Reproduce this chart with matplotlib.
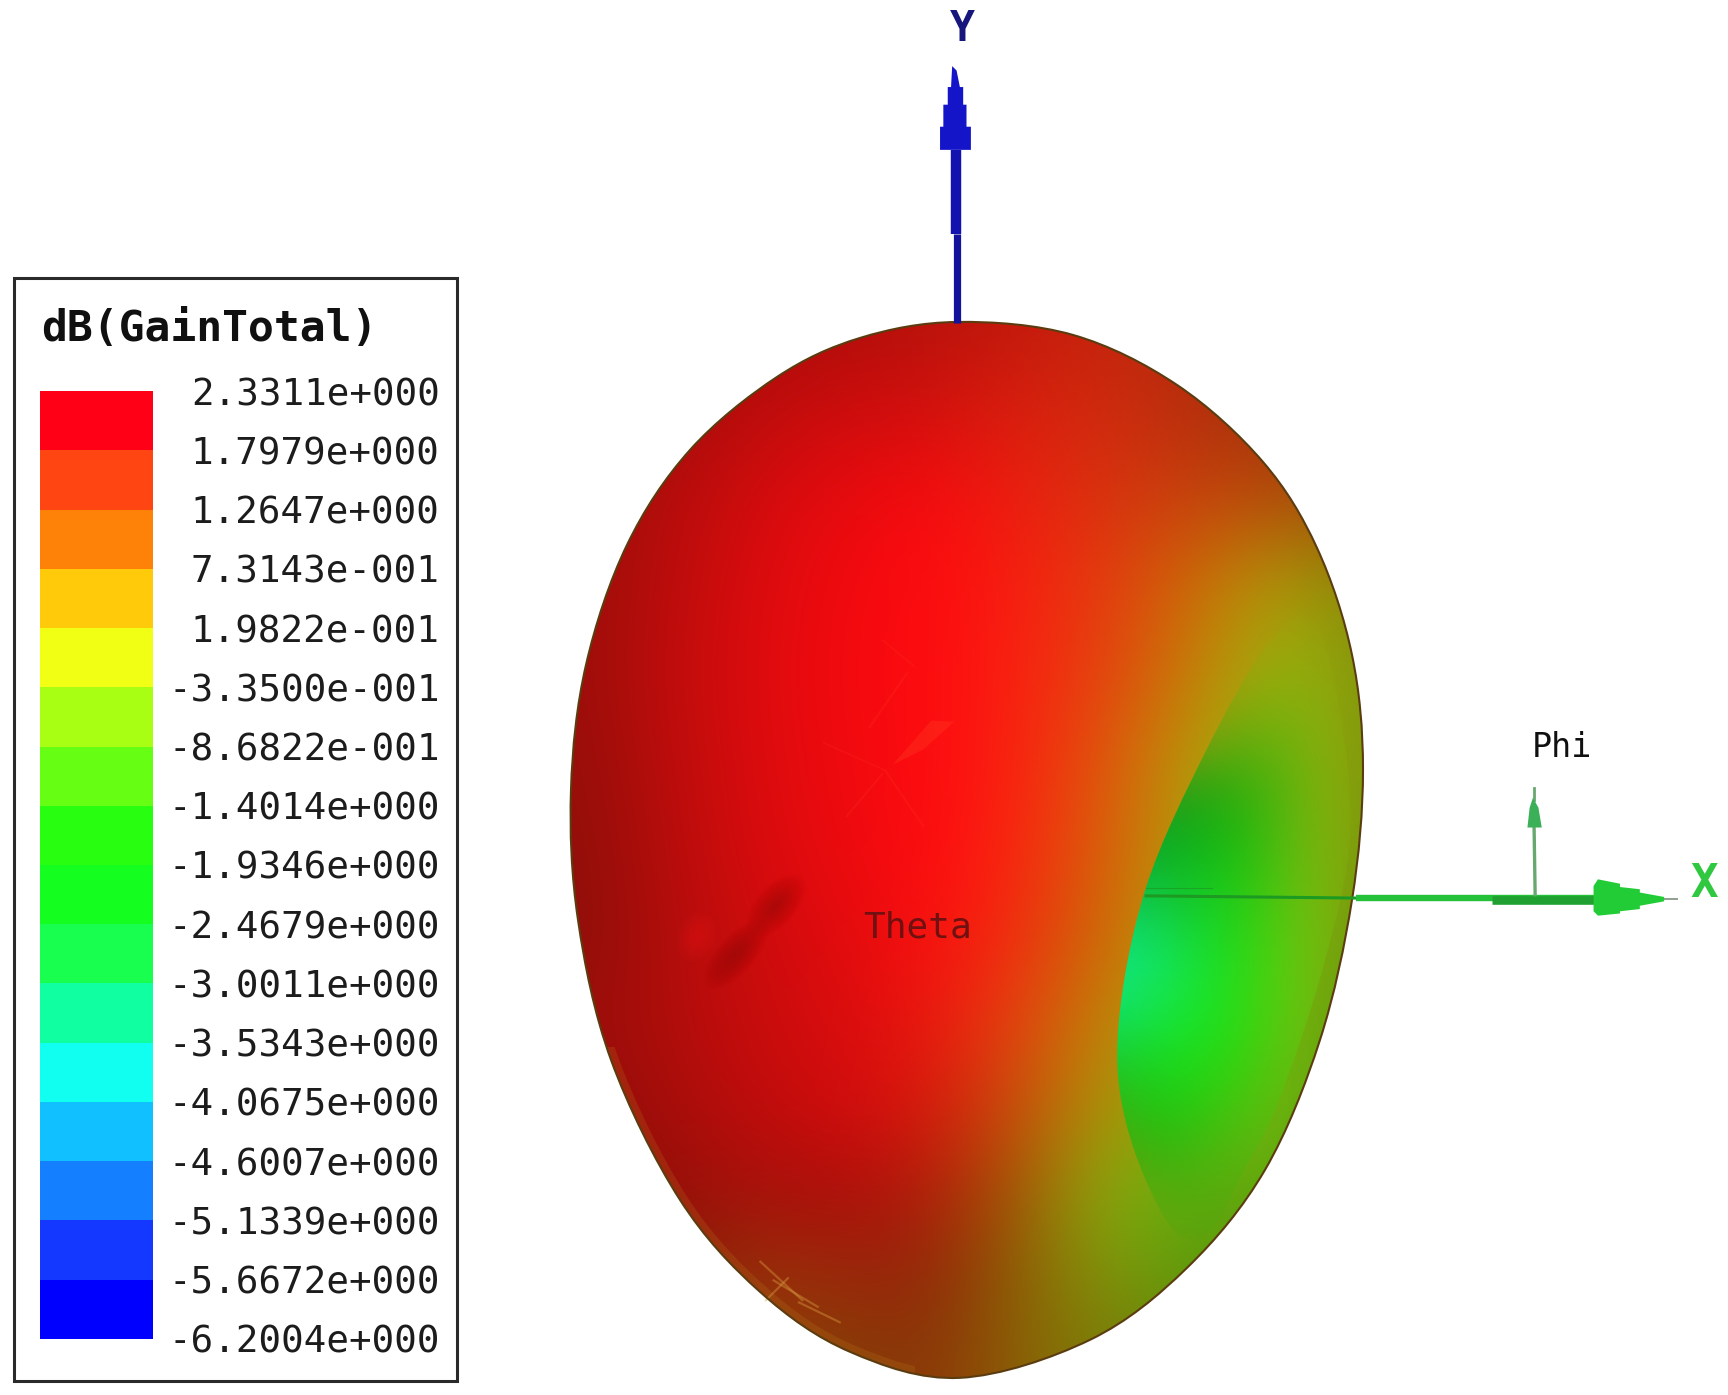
import numpy as np
import matplotlib
matplotlib.use('Agg')
import matplotlib.pyplot as plt
from matplotlib.colors import ListedColormap, LinearSegmentedColormap, Normalize
from matplotlib.patches import Polygon, Rectangle, Ellipse, PathPatch
from matplotlib.path import Path
from matplotlib.transforms import Bbox, TransformedBbox

# legend
level_labels = ['-6.2004e+000', '-5.6672e+000', '-5.1339e+000', '-4.6007e+000', '-4.0675e+000',
                '-3.5343e+000', '-3.0011e+000', '-2.4679e+000', '-1.9346e+000', '-1.4014e+000',
                '-8.6822e-001', '-3.3500e-001', '1.9822e-001', '7.3143e-001', '1.2647e+000',
                '1.7979e+000', '2.3311e+000']
levels = [float(s) for s in level_labels]
band_colors = ['#0000ff', '#1438ff', '#1480ff', '#10c0ff', '#10fff0', '#10ffa0', '#18ff50', '#14ff20',
               '#28ff10', '#66ff14', '#a8ff14', '#f0ff14', '#ffca0a', '#ff8208', '#ff4612', '#ff0016']

# outline of the pattern, full size px of the reference
outline_x = [957, 1073, 1177, 1263, 1317, 1352, 1363, 1352, 1320, 1265, 1187, 1090, 960, 850, 760, 680, 611, 578, 571, 586, 627, 690, 777, 860]
outline_y = [322, 335, 385, 462, 548, 655, 770, 900, 1040, 1170, 1268, 1340, 1378, 1352, 1292, 1200, 1060, 920, 790, 665, 545, 450, 377, 338]

# edge of the null on the right, in the 1568 wide view
crater_x = [1150, 1095, 1040, 1015, 1022, 1060, 1095, 1130, 1160, 1200, 1225, 1215, 1190]
crater_y = [585, 680, 805, 930, 1020, 1110, 1120, 1060, 1000, 880, 760, 640, 560]

# gain, dB
body_cols = [520, 600, 680, 760, 840, 920, 1000, 1080, 1160, 1240]
body_rows = [290, 370, 450, 530, 610, 690, 770, 850, 930, 1010, 1090, 1170, 1250]
body_gain = [[2.3, 2.3, 2.3, 2.3, 2.2, 2.1, 1.9, 1.7, 1.5, 1.3],
             [2.3, 2.3, 2.3, 2.3, 2.25, 2.0, 1.8, 1.7, 1.5, 1.3],
             [2.3, 2.3, 2.3, 2.3, 2.3, 2.05, 1.7, 1.45, 1.3, 1.1],
             [2.3, 2.3, 2.3, 2.3, 2.3, 2.05, 1.6, 1.0, 0.3, 0.15],
             [2.3, 2.3, 2.3, 2.3, 2.3, 2.0, 1.5, 0.8, -0.2, -0.1],
             [2.3, 2.3, 2.3, 2.3, 2.3, 2.0, 1.3, 0.4, -0.4, -0.1],
             [2.3, 2.3, 2.3, 2.3, 2.3, 1.95, 1.2, 0.3, -0.5, -0.2],
             [2.3, 2.3, 2.3, 2.3, 2.25, 1.85, 1.0, 0.3, -0.6, -0.3],
             [2.3, 2.3, 2.3, 2.3, 2.15, 1.5, 0.7, 0.0, -0.8, -0.4],
             [2.3, 2.3, 2.3, 2.3, 2.1, 1.3, 0.4, -0.4, -0.9, -0.4],
             [2.3, 2.3, 2.2, 2.3, 2.0, 1.0, -0.3, -0.9, -0.7, -0.4],
             [1.9, 1.9, 1.4, 1.6, 1.7, 0.8, 0.0, -0.6, -0.6, -0.4],
             [1.2, 1.2, 1.1, 1.1, 1.4, 0.8, 0.2, -0.2, -0.3, -0.3]]
body_shade = [[.60, .60, .65, .68, .72, .76, .78, .70, .65, .60],
              [.60, .62, .74, .80, .82, .85, .82, .72, .62, .55],
              [.60, .70, .82, .90, .97, .93, .85, .78, .72, .60],
              [.60, .72, .85, .94, 1.0, .97, .90, .80, .70, .55],
              [.60, .74, .86, .95, 1.0, .98, .90, .78, .69, .55],
              [.58, .72, .85, .94, 1.0, .98, .88, .72, .70, .55],
              [.56, .70, .84, .92, 1.0, .98, .86, .70, .72, .55],
              [.55, .68, .80, .88, .98, .95, .80, .72, .72, .55],
              [.60, .68, .78, .85, .92, .90, .75, .68, .72, .55],
              [.55, .64, .74, .82, .84, .78, .68, .66, .72, .55],
              [.50, .58, .64, .66, .68, .62, .65, .66, .62, .50],
              [.45, .50, .58, .60, .56, .55, .54, .56, .50, .45],
              [.40, .45, .50, .50, .55, .55, .50, .45, .45, .40]]

pit_cols = [1000, 1060, 1120, 1180, 1240]
pit_rows = [560, 640, 720, 800, 880, 960, 1040, 1120]
pit_gain = [[.2, .0, -.2, -.2, .0],
            [.0, -.6, -.9, -.7, -.1],
            [-2.6, -2.4, -1.8, -.9, -.2],
            [-2.9, -2.5, -1.95, -1.0, -.3],
            [-3.4, -3.0, -1.85, -1.0, -.4],
            [-2.5, -2.0, -1.75, -.9, -.3],
            [-1.5, -1.9, -1.2, -.8, -.4],
            [-1.2, -1.2, -.9, -.7, -.5]]
pit_shade = [[.70, .70, .70, .70, .70],
             [.70, .66, .66, .69, .69],
             [.50, .55, .64, .68, .68],
             [.68, .72, .78, .74, .70],
             [.95, .92, .88, .80, .70],
             [.78, .88, .86, .75, .70],
             [.65, .72, .72, .70, .65],
             [.60, .62, .62, .60, .55]]
pit_fade = [[0, 0, 0, 0, 0],
            [0, .05, .4, .5, 0],
            [1, 1, 1, .9, 0],
            [1, 1, 1, .8, 0],
            [1, 1, 1, .8, 0],
            [1, 1, 1, .7, 0],
            [.6, 1, .7, .2, 0],
            [0, 0, 0, 0, 0]]

# smooth version of the legend colours for the surface
surface_colors = band_colors[:-1] + ['#ff0a10']
centers = [(a + b) / 2 for a, b in zip(levels[:-1], levels[1:])]
pos = [(c - levels[0]) / (levels[-1] - levels[0]) for c in centers]
pos[0], pos[-1] = 0.0, 1.0
surface_cmap = LinearSegmentedColormap.from_list('gain', list(zip(pos, surface_colors)))
gain_norm = Normalize(levels[0], levels[-1])


def shaded(gain, shade, fade=None):
    rgba = surface_cmap(gain_norm(np.array(gain)))
    shade = np.array(shade)
    rgba[..., :3] *= shade[..., None]
    rgba[..., 1] += (1 - shade) * 0.08  # dark parts go brown, not maroon
    if fade is not None:
        rgba[..., 3] = fade
    return rgba.clip(0, 1)


def smooth_closed(xs, ys):
    # closed catmull-rom through the read points
    p = np.column_stack([xs, ys]).astype(float)
    n = len(p)
    verts = [p[0]]
    codes = [Path.MOVETO]
    for i in range(n):
        p0, p1, p2, p3 = p[i - 1], p[i], p[(i + 1) % n], p[(i + 2) % n]
        verts += [p1 + (p2 - p0) / 6, p2 - (p3 - p1) / 6, p2]
        codes += [Path.CURVE4] * 3
    return Path(verts, codes)


fig = plt.figure(figsize=(17.28, 13.95), dpi=100)
ax = fig.add_axes([0, 0, 1, 1])

# surface
view = 1568 / 1728
edge_path = smooth_closed(np.array(outline_x) * view, np.array(outline_y) * view)
outline = PathPatch(edge_path, fc='none', ec='#5a3c10', lw=1.5, zorder=4)
im = ax.imshow(shaded(body_gain, body_shade), interpolation='bicubic', aspect='auto', zorder=1,
               extent=(body_cols[0] - 40, body_cols[-1] + 40, body_rows[-1] + 40, body_rows[0] - 40))
ax.add_patch(outline)
im.set_clip_path(outline)

pit = PathPatch(smooth_closed(crater_x, crater_y), fc='none', ec='none')
ax.add_patch(pit)
im2 = ax.imshow(shaded(pit_gain, pit_shade, pit_fade), interpolation='bicubic', aspect='auto', zorder=2,
                extent=(pit_cols[0] - 30, pit_cols[-1] + 30, pit_rows[-1] + 40, pit_rows[0] - 40))
im2.set_clip_path(pit)
ax.set_xlim(0, 1568)
ax.set_ylim(1266, 0)
ax.axis('off')

# dents on the front, stacked soft blobs
for cx, cy, w, h in [(704, 822, 70, 36), (668, 866, 80, 34)]:
    for k in np.linspace(1, 0.15, 12):
        ax.add_patch(Ellipse((cx, cy), w * k, h * k, angle=-48, fc='#7a0808', ec='none', alpha=0.035, zorder=3))
for k in np.linspace(1, 0.3, 6):
    ax.add_patch(Ellipse((632, 850), 34 * k, 46 * k, angle=20, fc='#ff2020', ec='none', alpha=0.05, zorder=3))

# creases around the main beam
crease = dict(color='#ff3520', alpha=0.22, zorder=3, solid_capstyle='round')
ax.plot([823, 789], [611, 660], lw=1.6, **crease)
ax.plot([768, 801], [741, 702], lw=1.4, **crease)
ax.plot([803, 838], [699, 750], lw=1.4, **crease)
ax.plot([747, 803], [674, 699], lw=1.0, **crease)
ax.plot([801, 830], [581, 605], lw=1.2, **crease)
ax.add_patch(Polygon([(810, 694), (845, 654), (866, 655), (838, 680)], closed=True, fc='#ff3520', ec='none', alpha=0.4, zorder=3))

# brown speckled band on the lower rim
band = PathPatch(edge_path, fc='none', ec='#c08020', lw=11, alpha=0.2, zorder=3)
ax.add_patch(band)
band.set_clip_path(outline)
band.set_clip_box(TransformedBbox(Bbox([[500, 950], [830, 1260]]), ax.transData))
rim = dict(color='#d8a040', alpha=0.4, lw=1.6, zorder=3)
ax.plot([690, 728], [1145, 1180], **rim)
ax.plot([702, 742], [1162, 1186], **rim)
ax.plot([715, 695], [1160, 1180], **rim)
ax.plot([725, 762], [1182, 1200], **rim)

# axes triads
ax.plot([867.5, 867.5], [136, 212], color='#1212b0', lw=7.5, zorder=5, solid_capstyle='butt')
ax.plot([868.5, 868.5], [212, 293], color='#12129c', lw=5.2, zorder=5, solid_capstyle='butt')
ax.add_patch(Polygon([(864, 60), (868, 64), (871, 79), (874, 79), (874, 95), (877, 95), (877, 115), (881, 115), (881, 136),
                      (850, 136), (853, 136), (853, 115), (856, 115), (856, 95), (860, 95), (860, 79), (863, 79)],
                     closed=True, fc='#1414c8', ec='none', zorder=5))
ax.plot([1040, 1230], [813, 815], color='#1c9a22', lw=2.2, zorder=5)
ax.plot([1040, 1100], [806, 806], color='#1c9a22', lw=0.8, alpha=0.7, zorder=5)
ax.plot([1230, 1446], [815, 815], color='#24c03a', lw=4.6, zorder=5, solid_capstyle='butt')
ax.plot([1354, 1446], [817, 817], color='#1fa030', lw=6.2, zorder=5, solid_capstyle='butt')
ax.plot([1505, 1522], [816, 816], color='#90a090', lw=1.4, zorder=5)
ax.add_patch(Polygon([(1446, 804), (1450, 798), (1470, 802), (1470, 805), (1488, 807), (1488, 810), (1510, 814), (1510, 818),
                      (1488, 822), (1488, 825), (1470, 827), (1470, 829), (1450, 831), (1446, 827)],
                     closed=True, fc='#22cc36', ec='none', zorder=5))
ax.plot([1393, 1392], [812, 748], color='#68a870', lw=2.4, zorder=5)
ax.plot([1392, 1392], [726, 715], color='#68a870', lw=2.0, zorder=5)
ax.add_patch(Polygon([(1391, 724), (1396, 733), (1399, 751), (1386, 751), (1388, 733)], closed=True, fc='#3cb058', ec='none', zorder=5))

mono = 'DejaVu Sans Mono'
ax.text(873, 26, 'Y', color='#16167c', family=mono, weight='bold', fontsize=30, ha='center', va='center', zorder=6)
ax.text(1546, 803, 'X', color='#30c840', family=mono, weight='bold', fontsize=33, ha='center', va='center', zorder=6)
ax.text(1417, 678, 'Phi', color='#101010', family=mono, fontsize=24, ha='center', va='center', zorder=6)
ax.text(833, 842, 'Theta', color='#701010', family=mono, fontsize=26, ha='center', va='center', zorder=6)

# legend box
ax.add_patch(Rectangle((13, 252), 402, 1001, fc='white', ec='#2a2a2a', lw=2.2, zorder=6))
ax.text(37, 299, 'dB(GainTotal)', color='#101010', family=mono, weight='bold', fontsize=31, ha='left', va='center', zorder=7)

ax_bar = fig.add_axes([36 / 1568, 1 - 1215 / 1266, 103 / 1568, 860 / 1266], zorder=8)
ax_bar.pcolormesh([0, 1], np.arange(len(levels)), np.arange(len(band_colors))[:, None],
                  cmap=ListedColormap(band_colors), shading='flat')
ax_bar.set_xticks([])
ax_bar.yaxis.tick_right()
ax_bar.set_yticks(np.arange(len(levels)))
ax_bar.set_yticklabels(level_labels, family=mono, fontsize=27, color='#1c1c1c', ha='right')
ax_bar.tick_params(axis='y', length=0, pad=(399 - 139) * 1728 / 1568 * 0.72)
for s in ax_bar.spines.values():
    s.set_visible(False)

plt.savefig('out.png', dpi=100)
